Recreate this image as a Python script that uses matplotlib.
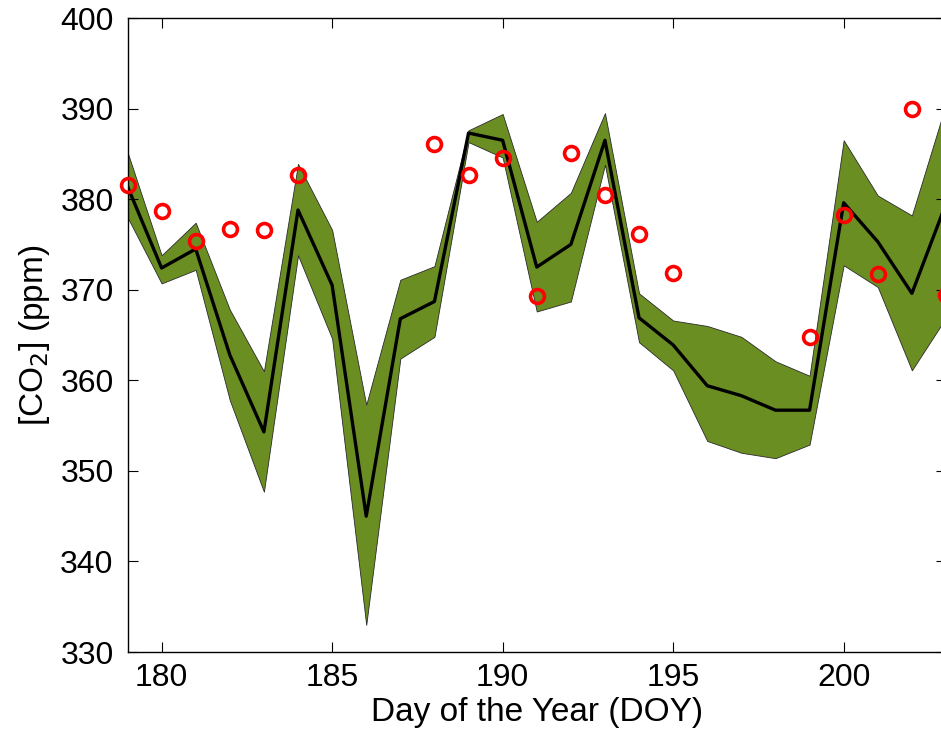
import matplotlib
matplotlib.use("Agg")
import matplotlib.pyplot as plt

plt.rcParams["font.family"] = ["Liberation Sans", "DejaVu Sans"]

# Day of year
doy = list(range(179, 204))

# Modelled CO2: ensemble mean and spread envelope (ppm)
co2_mean = [381.4, 372.4, 374.5, 362.8, 354.3, 378.8, 370.5, 345.0, 366.8,
            368.7, 387.3, 386.5, 372.5, 375.0, 386.5, 366.9, 363.9, 359.4,
            358.3, 356.7, 356.7, 379.6, 375.3, 369.6, 379.5]
co2_upper = [385.2, 373.8, 377.4, 367.8, 361.0, 383.9, 376.6, 357.3, 371.1,
             372.6, 387.6, 389.4, 377.5, 380.7, 389.5, 369.6, 366.6, 366.0,
             364.8, 362.1, 360.5, 386.5, 380.4, 378.2, 390.5]
co2_lower = [378.0, 370.7, 372.2, 357.8, 347.7, 373.8, 364.6, 333.0, 362.4,
             364.8, 386.3, 384.6, 367.6, 368.7, 383.8, 364.2, 361.1, 353.3,
             352.0, 351.4, 352.9, 372.7, 370.3, 361.1, 366.9]

# Observed CO2
obs_doy = [179, 180, 181, 182, 183, 184, 188, 189, 190, 191, 192, 193, 194,
           195, 199, 200, 201, 202, 203]
obs_co2 = [381.6, 378.7, 375.4, 376.7, 376.6, 382.7, 386.1, 382.7, 384.5,
           369.3, 385.1, 380.5, 376.2, 371.8, 364.8, 378.2, 371.7, 390.0, 369.4]

fig = plt.figure(figsize=(9.41, 7.29), dpi=100)
ax = fig.add_axes([0.1355, 0.1056, 0.8698, 0.8697])

ax.fill_between(doy, co2_lower, co2_upper, facecolor="#6b8e23",
                edgecolor="#2a2a2a", linewidth=0.6, zorder=1)
ax.plot(doy, co2_mean, color="black", linewidth=2.4, zorder=2)
ax.plot(obs_doy, obs_co2, linestyle="none", marker="o", markersize=10,
        markerfacecolor="none", markeredgecolor="red", markeredgewidth=2.6,
        zorder=3, clip_on=False)

ax.set_xlim(179, 203)
ax.set_ylim(330, 400)
ax.set_xticks(range(180, 201, 5))
ax.set_yticks(range(330, 401, 10))

ax.tick_params(direction="in", length=7, width=0.8, labelsize=23,
               top=True, right=True)
ax.tick_params(axis="x", pad=8)
ax.tick_params(axis="y", pad=10)
for spine in ax.spines.values():
    spine.set_linewidth(1.0)

ax.set_xlabel("Day of the Year (DOY)", fontsize=24, labelpad=3)
ax.set_ylabel("[CO$_2$] (ppm)", fontsize=24, labelpad=6)

fig.savefig("out.png", dpi=100)
